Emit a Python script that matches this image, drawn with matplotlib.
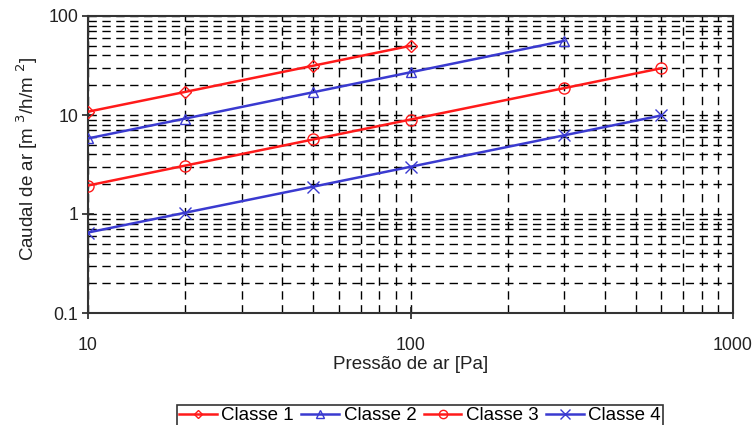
import matplotlib
matplotlib.use("Agg")
import matplotlib.pyplot as plt
from matplotlib.ticker import LogLocator, FixedLocator, NullFormatter

plt.rcParams['font.family'] = ['Liberation Sans', 'DejaVu Sans']

# Air permeability classes (flow per area vs. pressure)
p_c1 = [10, 20, 50, 100]
q_c1 = [10.8, 17.1, 31.5, 50.0]

p_c2 = [10, 20, 50, 100, 300]
q_c2 = [5.8, 9.2, 17.0, 27.0, 56.2]

p_c3 = [10, 20, 50, 100, 300, 600]
q_c3 = [1.94, 3.08, 5.67, 9.0, 18.7, 29.7]

p_c4 = [10, 20, 50, 100, 300, 600]
q_c4 = [0.65, 1.03, 1.89, 3.0, 6.24, 9.9]

x_ticks = [10, 100, 1000]
y_ticks = [0.1, 1, 10, 100]
y_ticklabels = ['0.1', '1', '10', '100']

red = '#ff1a1a'
blue = '#3a3ad0'

fig = plt.figure(figsize=(7.54, 4.25), dpi=100)
ax = fig.add_axes([88 / 754, 1 - 313 / 425, (733 - 88) / 754, (313 - 16) / 425])

series = [
    (p_c1, q_c1, red, 'D', 'Classe 1', 6),
    (p_c2, q_c2, blue, '^', 'Classe 2', 7),
    (p_c3, q_c3, red, 'o', 'Classe 3', 8),
    (p_c4, q_c4, blue, 'x', 'Classe 4', 9),
]
for xs, ys, c, m, lab, ms in series:
    ax.plot(xs, ys, color=c, lw=1.8, marker=m, markersize=ms,
            markerfacecolor='none', markeredgecolor=c, markeredgewidth=1.0,
            label=lab, zorder=3)

ax.set_xscale('log')
ax.set_yscale('log')
ax.set_xlim(10, 1000)
ax.set_ylim(0.1, 100)

ax.xaxis.set_major_locator(FixedLocator(x_ticks))
ax.set_xticklabels([str(t) for t in x_ticks])
ax.yaxis.set_major_locator(FixedLocator(y_ticks))
ax.set_yticklabels(y_ticklabels)
ax.xaxis.set_minor_locator(LogLocator(base=10, subs=range(2, 10)))
ax.yaxis.set_minor_locator(LogLocator(base=10, subs=range(2, 10)))
ax.xaxis.set_minor_formatter(NullFormatter())
ax.yaxis.set_minor_formatter(NullFormatter())

ax.tick_params(axis='both', which='major', direction='inout', length=8, width=1.2,
               labelsize=12.8, colors='#222222')
ax.tick_params(axis='x', which='major', pad=13)
ax.tick_params(axis='y', which='major', pad=3)
ax.tick_params(axis='both', which='minor', length=0)

ax.grid(True, which='both', color='black', linestyle=(0, (6, 4)), linewidth=1.0, zorder=1)

for s in ax.spines.values():
    s.set_color('#333333')
    s.set_linewidth(1.5)

ax.set_xlabel('Pressão de ar [Pa]', fontsize=13.5, color='#222222', labelpad=2)
ax.set_ylabel('Caudal de ar [m $^3$/h/m $^2$]', fontsize=13.5, color='#222222')
ax.yaxis.set_label_coords(-0.075, 0.52)

leg = fig.legend(loc='upper center', bbox_to_anchor=(420 / 754, 1 - 396 / 425), ncol=4,
                 fontsize=13.5, frameon=True, fancybox=False, edgecolor='black',
                 handlelength=2.0, handletextpad=0.25, columnspacing=0.4,
                 borderpad=0.1, markerscale=0.75)
leg.get_frame().set_linewidth(1.2)

fig.savefig('out.png', dpi=100)
